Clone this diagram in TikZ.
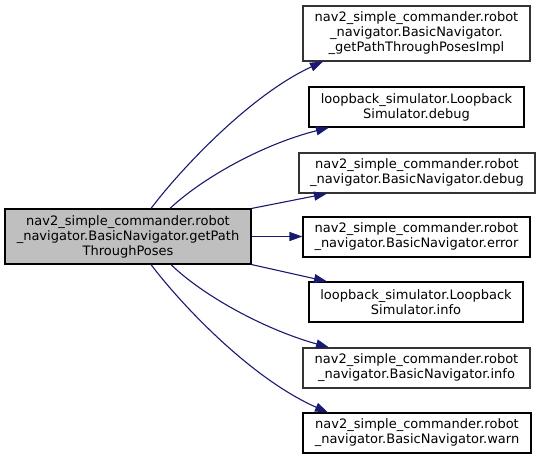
\documentclass[tikz,border=0pt]{standalone}
\usepackage{fontspec}
\setmainfont{DejaVu Sans}
\usetikzlibrary{arrows.meta}
\definecolor{edgeblue}{HTML}{191970}
\definecolor{boxgray}{HTML}{333333}
\definecolor{mainfill}{HTML}{BFBFBF}
\tikzset{
  fbox/.style={draw=black, line width=1.1pt, fill=white, inner sep=0pt, align=center,
    font=\fontsize{13}{15}\selectfont},
  gbox/.style={fbox, draw=boxgray},
  mainbox/.style={fbox, fill=mainfill},
  calls/.style={draw=edgeblue, line width=1.1pt, -{Triangle[length=13pt,width=9pt,fill=edgeblue]}}
}
\begin{document}
\begin{tikzpicture}[x=1pt,y=-1pt]
\useasboundingbox (0,0) rectangle (540,459);
\node[mainbox, minimum width=246pt, minimum height=55pt] (L) at (128,236.5)
  {nav2\_simple\_commander.robot\\\_navigator.BasicNavigator.getPath\\ThroughPoses};
\node[gbox, minimum width=227pt, minimum height=55pt] (B1) at (416.5,33.5)
  {nav2\_simple\_commander.robot\\\_navigator.BasicNavigator.\\\_getPathThroughPosesImpl};
\node[fbox, minimum width=215pt, minimum height=40pt] (B2) at (416.5,107)
  {loopback\_simulator.Loopback\\Simulator.debug};
\node[gbox, minimum width=236pt, minimum height=40pt] (B3) at (417,173)
  {nav2\_simple\_commander.robot\\\_navigator.BasicNavigator.debug};
\node[fbox, minimum width=227pt, minimum height=40pt] (B4) at (416.5,237)
  {nav2\_simple\_commander.robot\\\_navigator.BasicNavigator.error};
\node[fbox, minimum width=214pt, minimum height=40pt] (B5) at (416,302)
  {loopback\_simulator.Loopback\\Simulator.info};
\node[gbox, minimum width=227pt, minimum height=40pt] (B6) at (416.5,368)
  {nav2\_simple\_commander.robot\\\_navigator.BasicNavigator.info};
\node[fbox, minimum width=228pt, minimum height=40pt] (B7) at (417,433)
  {nav2\_simple\_commander.robot\\\_navigator.BasicNavigator.warn};
% connectors
\draw[calls] ([xshift=23pt]L.north) .. controls (180,170) and (250,95) .. ([xshift=-93.5pt]B1.south);
\draw[calls] ([xshift=42pt]L.north) .. controls (200,180) and (260,145) .. ([xshift=-87.5pt]B2.south);
\draw[calls] (L.north east) -- ([xshift=-90pt]B3.south);
\draw[calls] (L.east) -- (B4.west |- L.east);
\draw[calls] (L.south east) -- ([xshift=-89pt]B5.north);
\draw[calls] ([xshift=43pt]L.south) .. controls (200,293) and (260,328) .. ([xshift=-87.5pt]B6.north);
\draw[calls] ([xshift=23pt]L.south) .. controls (180,303) and (250,378) .. ([xshift=-89pt]B7.north);
\end{tikzpicture}
\end{document}
